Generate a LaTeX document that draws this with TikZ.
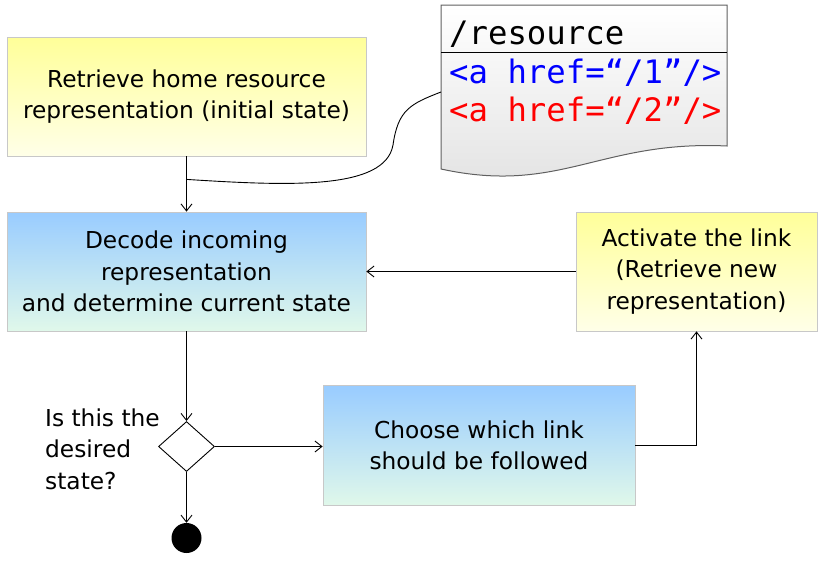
\documentclass[tikz,border=0pt]{standalone}
\usepackage{fontspec}
\setmainfont{DejaVu Sans}
\newfontfamily\codefont{DejaVu Sans Mono}
\usetikzlibrary{arrows.meta,shapes.geometric,calc}
\definecolor{yeltop}{HTML}{FFFF99}
\definecolor{yelbot}{HTML}{FFFFE8}
\definecolor{blutop}{HTML}{99CCFF}
\definecolor{blubot}{HTML}{E0F8EA}
\definecolor{boxline}{HTML}{C8C8C8}
\definecolor{docline}{HTML}{606060}
\definecolor{docbot}{HTML}{E2E2E2}
\definecolor{linkblue}{HTML}{0000FF}
\definecolor{linkred}{HTML}{FF0000}
\tikzset{
  txt/.style={font=\fontsize{23.3pt}{31.5pt}\selectfont},
  yelbox/.style={txt, draw=boxline, line width=0.8pt, top color=yeltop, bottom color=yelbot, align=center, inner sep=0pt},
  blubox/.style={txt, draw=boxline, line width=0.8pt, top color=blutop, bottom color=blubot, align=center, inner sep=0pt},
  conn/.style={draw=black, line width=0.9pt, -{Straight Barb[length=7pt,width=11pt]}},
  plain/.style={draw=black, line width=0.9pt},
  codetxt/.style={font=\codefont\fontsize{32.3pt}{38pt}\selectfont, anchor=west, inner sep=0pt},
}
\begin{document}
\begin{tikzpicture}[x=1pt,y=-1pt]
\useasboundingbox (0,0) rectangle (818,562);
% boxes
\node[yelbox, minimum width=359pt, minimum height=119pt] (home) at (186.5,96.5)
  {Retrieve home resource\\representation (initial state)};
\node[blubox, minimum width=359pt, minimum height=119pt] (decode) at (186.5,271.5)
  {Decode incoming\\representation\\and determine current state};
\node[yelbox, minimum width=241pt, minimum height=119pt] (activate) at (696.5,271.5)
  {Activate the link\\(Retrieve new\\representation)};
\node[blubox, minimum width=312pt, minimum height=120pt] (choose) at (479,445.5)
  {Choose which link\\should be followed};
\node[diamond, draw=black, line width=0.9pt, fill=white, minimum width=56pt, minimum height=50pt, inner sep=0pt] (dec) at (186.5,446.5) {};
\node[circle, fill=black, minimum size=30pt, inner sep=0pt] (final) at (186.5,538) {};
\node[txt, align=left, anchor=west, inner sep=0pt] (question) at (45,449)
  {Is this the\\desired\\state?};
% document shape
\path[draw=docline, line width=1pt, top color=white, bottom color=docbot]
  (441,5) -- (727,5) -- (727,146)
  .. controls (600,140) and (560,195) .. (441,169) -- cycle;
\draw[black, line width=0.9pt] (441,52) -- (727,52);
\node[codetxt] (res) at (449,34) {/resource};
\node[codetxt, text=linkblue] (l1) at (449,73) {<a href=“/1”/>};
\node[codetxt, text=linkred] (l2) at (449,111) {<a href=“/2”/>};
\coordinate (docin) at (441,92);
% connectors
\draw[conn] (home.south) -- (decode.north);
\coordinate (junc) at ($(home.south)+(0,23)$);
\draw[plain] (junc) .. controls (290,186) and (385,190) .. (393,145)
  .. controls (398,110) and (410,104) .. (docin);
\draw[conn] (activate.west) -- (decode.east);
\draw[conn] (decode.south) -- (dec.north);
\draw[conn] (dec.east) -- (dec.east -| choose.west);
\draw[conn] (dec.south) -- (final.north);
\draw[conn] (choose.east) -| (activate.south);
\end{tikzpicture}
\end{document}
